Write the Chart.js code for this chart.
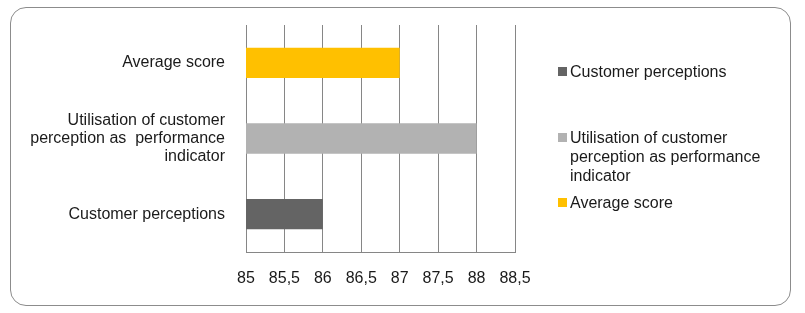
<!DOCTYPE html>
<html>
<head>
<meta charset="utf-8">
<script src="https://cdn.jsdelivr.net/npm/chart.js@4/dist/chart.umd.min.js"></script>
<style>
    html, body { margin: 0; padding: 0; background: #fff; }
    #wrap { position: relative; width: 805px; height: 313px; overflow: hidden; }
    #frame {
        position: absolute; left: 10px; top: 7px; width: 779px; height: 297px;
        border: 1px solid #8c8c8c; border-radius: 16px;
    }
    #chart { position: absolute; left: 0; top: 0; }
    .legend-item {
        position: absolute; left: 570px; width: 225px;
        font: 16px "Liberation Sans", Arial, sans-serif; line-height: 19px; color: #1a1a1a;
    }
    .legend-box { position: absolute; left: -12px; top: 5px; width: 9px; height: 9px; }
</style>
</head>
<body>
<div id="wrap">
    <div id="frame"></div>
    <canvas id="chart" width="805" height="313"></canvas>
    <div id="legend"></div>
</div>
<script>
// ------------------------------------------
// Dados
// ------------------------------------------
const categories = ['Average score', 'Utilisation of customer perception as performance indicator', 'Customer perceptions'];
const categoryLines = [
    ['Average score'],
    ['Utilisation of customer', 'perception as  performance', 'indicator'],
    ['Customer perceptions']
];
const values = [87, 88, 86];
const xTicks = [85, 85.5, 86, 86.5, 87, 87.5, 88, 88.5];
const legendNames = ['Customer perceptions', 'Utilisation of customer perception as performance indicator', 'Average score'];
const legendLines = [
    ['Customer perceptions'],
    ['Utilisation of customer', 'perception as  performance', 'indicator'],
    ['Average score']
];

// Cores por categoria
const colorOf = {
    'Average score': '#ffc000',
    'Utilisation of customer perception as performance indicator': '#b2b2b2',
    'Customer perceptions': '#646464'
};

const FONT = '"Liberation Sans", Arial, sans-serif';
const GRID = '#868686';

// ------------------------------------------
// Gráfico de barras horizontais
// ------------------------------------------
new Chart(document.getElementById('chart'), {
    type: 'bar',
    data: {
        labels: categoryLines,
        datasets: [{
            data: values,
            backgroundColor: categories.map(c => colorOf[c]),
            barPercentage: 0.4,
            categoryPercentage: 1
        }]
    },
    options: {
        indexAxis: 'y',
        responsive: false,
        animation: false,
        layout: { padding: { top: 25, right: 290, left: 0, bottom: 0 } },
        plugins: {
            legend: { display: false },
            tooltip: { enabled: false }
        },
        scales: {
            x: {
                min: xTicks[0],
                max: xTicks[xTicks.length - 1],
                afterBuildTicks: scale => { scale.ticks = xTicks.map(v => ({ value: v })); },
                afterFit: scale => { scale.height = 61; },
                ticks: {
                    color: '#1a1a1a',
                    padding: 17,
                    font: { family: FONT, size: 16 },
                    callback: v => String(v).replace('.', ',')
                },
                grid: { color: GRID, drawTicks: false },
                border: { color: GRID }
            },
            y: {
                // largura fixa e sem folga extra em cima/embaixo
                afterFit: scale => {
                    scale.width = 246;
                    scale.paddingTop = 0;
                    scale.paddingBottom = 0;
                },
                ticks: {
                    color: '#1a1a1a',
                    padding: 21,
                    font: { family: FONT, size: 16, lineHeight: 1.15 }
                },
                grid: { display: false, drawTicks: false },
                border: { color: GRID }
            }
        }
    }
});

// ------------------------------------------
// Legenda (HTML, à direita)
// ------------------------------------------
const legendTops = [62, 128, 193];
document.getElementById('legend').innerHTML = legendNames.map((name, i) => `
    <div class="legend-item" style="top:${legendTops[i]}px">
        <span class="legend-box" style="background:${colorOf[name]}"></span>
        ${legendLines[i].join('<br>')}
    </div>`).join('');
</script>
</body>
</html>
